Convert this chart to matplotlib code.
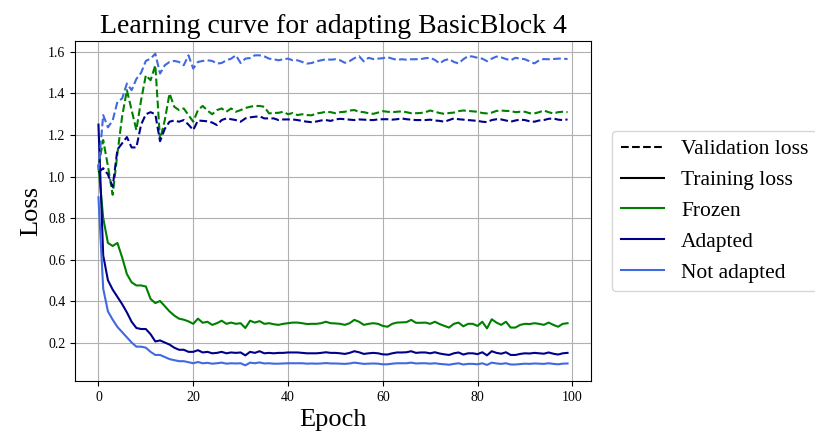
import matplotlib
matplotlib.use("Agg")
import matplotlib.pyplot as plt
from matplotlib.lines import Line2D
import numpy as np

plt.rcParams['font.family'] = ['Liberation Serif', 'DejaVu Serif']

epochs = list(range(100))

frozen_val = [1.05, 1.176, 1.05, 0.912, 1.11, 1.29, 1.416, 1.32, 1.224, 1.368,
              1.488, 1.464, 1.536, 1.176, 1.272, 1.40, 1.336, 1.32, 1.328, 1.296,
              1.264, 1.32, 1.34, 1.318, 1.30, 1.32, 1.328, 1.312, 1.328, 1.312,
              1.32, 1.33, 1.336, 1.34, 1.34, 1.336, 1.304, 1.306, 1.307, 1.312,
              1.30, 1.306, 1.296, 1.30, 1.296, 1.295, 1.304, 1.307, 1.312, 1.31,
              1.305, 1.31, 1.312, 1.318, 1.32, 1.312, 1.31, 1.305, 1.302, 1.308,
              1.315, 1.312, 1.31, 1.312, 1.314, 1.31, 1.305, 1.305, 1.306, 1.31,
              1.318, 1.312, 1.306, 1.302, 1.306, 1.308, 1.315, 1.318, 1.316, 1.314,
              1.312, 1.306, 1.304, 1.308, 1.316, 1.318, 1.316, 1.316, 1.31, 1.312,
              1.312, 1.305, 1.304, 1.31, 1.318, 1.31, 1.304, 1.31, 1.312, 1.31]

adapted_val = [1.02, 1.04, 1.01, 0.95, 1.13, 1.16, 1.19, 1.14, 1.14, 1.25,
               1.30, 1.31, 1.30, 1.17, 1.23, 1.264, 1.27, 1.264, 1.272, 1.25,
               1.224, 1.27, 1.268, 1.266, 1.26, 1.248, 1.272, 1.28, 1.276, 1.272,
               1.264, 1.28, 1.285, 1.288, 1.29, 1.28, 1.28, 1.28, 1.272, 1.275,
               1.275, 1.275, 1.272, 1.268, 1.264, 1.262, 1.265, 1.27, 1.272, 1.268,
               1.275, 1.278, 1.276, 1.274, 1.272, 1.275, 1.274, 1.272, 1.272, 1.275,
               1.276, 1.276, 1.274, 1.276, 1.28, 1.276, 1.274, 1.272, 1.272, 1.272,
               1.274, 1.27, 1.268, 1.264, 1.272, 1.28, 1.276, 1.274, 1.272, 1.27,
               1.268, 1.264, 1.262, 1.272, 1.276, 1.275, 1.27, 1.264, 1.27, 1.274,
               1.272, 1.266, 1.264, 1.27, 1.272, 1.278, 1.28, 1.274, 1.272, 1.275]

not_adapted_val = [1.03, 1.296, 1.237, 1.27, 1.36, 1.376, 1.448, 1.416, 1.47, 1.50,
                   1.557, 1.568, 1.592, 1.496, 1.536, 1.552, 1.557, 1.552, 1.536, 1.584,
                   1.52, 1.552, 1.557, 1.56, 1.557, 1.544, 1.547, 1.56, 1.568, 1.584,
                   1.547, 1.568, 1.571, 1.584, 1.584, 1.579, 1.568, 1.565, 1.56, 1.565,
                   1.568, 1.56, 1.56, 1.552, 1.544, 1.547, 1.555, 1.56, 1.565, 1.563,
                   1.565, 1.56, 1.548, 1.556, 1.57, 1.58, 1.555, 1.572, 1.566, 1.568,
                   1.57, 1.575, 1.568, 1.562, 1.565, 1.563, 1.565, 1.565, 1.566, 1.57,
                   1.572, 1.562, 1.545, 1.56, 1.566, 1.552, 1.545, 1.565, 1.58, 1.578,
                   1.572, 1.568, 1.556, 1.568, 1.578, 1.574, 1.566, 1.56, 1.572, 1.568,
                   1.565, 1.555, 1.545, 1.56, 1.566, 1.565, 1.566, 1.568, 1.568, 1.566]

frozen_train = [1.05, 0.80, 0.68, 0.665, 0.68, 0.61, 0.53, 0.49, 0.475, 0.475,
                0.47, 0.41, 0.39, 0.40, 0.375, 0.35, 0.33, 0.315, 0.31, 0.302,
                0.29, 0.315, 0.295, 0.30, 0.285, 0.293, 0.305, 0.29, 0.296, 0.29,
                0.293, 0.27, 0.305, 0.296, 0.303, 0.29, 0.293, 0.288, 0.285, 0.29,
                0.293, 0.296, 0.296, 0.293, 0.289, 0.29, 0.29, 0.293, 0.30, 0.293,
                0.292, 0.29, 0.285, 0.293, 0.309, 0.30, 0.285, 0.29, 0.293, 0.29,
                0.28, 0.276, 0.29, 0.296, 0.297, 0.298, 0.309, 0.295, 0.295, 0.296,
                0.29, 0.30, 0.289, 0.28, 0.272, 0.29, 0.296, 0.278, 0.29, 0.29,
                0.28, 0.30, 0.268, 0.312, 0.296, 0.285, 0.30, 0.272, 0.272, 0.285,
                0.29, 0.289, 0.293, 0.29, 0.285, 0.296, 0.285, 0.276, 0.29, 0.293]

adapted_train = [1.25, 0.62, 0.50, 0.455, 0.42, 0.385, 0.345, 0.30, 0.27, 0.265,
                 0.265, 0.24, 0.205, 0.21, 0.20, 0.19, 0.175, 0.165, 0.165, 0.155,
                 0.155, 0.163, 0.152, 0.155, 0.148, 0.15, 0.155, 0.148, 0.152, 0.15,
                 0.152, 0.138, 0.155, 0.15, 0.158, 0.148, 0.15, 0.148, 0.15, 0.15,
                 0.152, 0.152, 0.152, 0.15, 0.148, 0.148, 0.148, 0.15, 0.153, 0.15,
                 0.15, 0.148, 0.145, 0.15, 0.158, 0.153, 0.145, 0.148, 0.15, 0.148,
                 0.143, 0.142, 0.148, 0.152, 0.152, 0.153, 0.158, 0.15, 0.152, 0.152,
                 0.148, 0.153, 0.147, 0.143, 0.14, 0.148, 0.152, 0.142, 0.148, 0.148,
                 0.144, 0.153, 0.138, 0.158, 0.15, 0.146, 0.153, 0.14, 0.14, 0.145,
                 0.148, 0.147, 0.15, 0.148, 0.146, 0.152, 0.146, 0.142, 0.148, 0.15]

not_adapted_train = [0.90, 0.46, 0.35, 0.31, 0.275, 0.25, 0.225, 0.20, 0.18, 0.18,
                     0.175, 0.155, 0.14, 0.14, 0.13, 0.12, 0.115, 0.11, 0.11, 0.105,
                     0.10, 0.106, 0.10, 0.102, 0.098, 0.10, 0.103, 0.098, 0.10, 0.099,
                     0.10, 0.09, 0.103, 0.10, 0.104, 0.099, 0.10, 0.098, 0.098, 0.099,
                     0.10, 0.10, 0.10, 0.10, 0.098, 0.099, 0.098, 0.099, 0.101, 0.099,
                     0.099, 0.098, 0.097, 0.099, 0.103, 0.10, 0.097, 0.098, 0.099, 0.098,
                     0.095, 0.095, 0.098, 0.10, 0.10, 0.10, 0.103, 0.099, 0.10, 0.10,
                     0.098, 0.10, 0.097, 0.095, 0.093, 0.097, 0.10, 0.094, 0.097, 0.097,
                     0.095, 0.10, 0.092, 0.103, 0.099, 0.097, 0.10, 0.094, 0.094, 0.096,
                     0.098, 0.097, 0.099, 0.098, 0.097, 0.10, 0.097, 0.095, 0.098, 0.099]

series = [
    ("Frozen", "green", frozen_train, frozen_val),
    ("Adapted", "darkblue", adapted_train, adapted_val),
    ("Not adapted", "royalblue", not_adapted_train, not_adapted_val),
]

fig = plt.figure(figsize=(8.15, 4.42), dpi=100)
ax = fig.add_axes([75/815, 61/442, 516/815, 340/442])

for name, color, tr, va in series:
    ax.plot(epochs, va, color=color, linestyle='--', linewidth=1.5)
    ax.plot(epochs, tr, color=color, linestyle='-', linewidth=1.5)

ax.set_ylim(0.0145, 1.653)
ax.grid(True)
ax.set_title("Learning curve for adapting BasicBlock 4", fontsize=20)
ax.set_xlabel("Epoch", fontsize=19)
ax.set_ylabel("Loss", fontsize=19)
ax.tick_params(labelsize=10)

handles = [Line2D([], [], color='black', linestyle='--'),
           Line2D([], [], color='black', linestyle='-')]
labels = ["Validation loss", "Training loss"]
for name, color, tr, va in series:
    handles.append(Line2D([], [], color=color, linestyle='-'))
    labels.append(name)
ax.legend(handles, labels, loc='center left', bbox_to_anchor=(1.02, 0.5),
          fontsize=15.5)

fig.savefig("out.png", dpi=100)
